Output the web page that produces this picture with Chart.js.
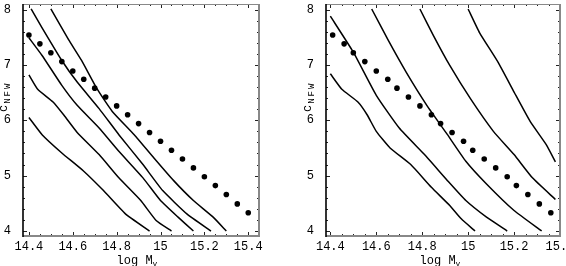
<!DOCTYPE html>
<html>
<head>
<meta charset="utf-8">
<script src="https://cdn.jsdelivr.net/npm/chart.js@4"></script>
<style>
  html, body { margin: 0; padding: 0; background: #fff; }
  .panel { position: absolute; top: 0; width: 283px; height: 266px; }
</style>
</head>
<body>
<div class="panel" style="left:0"><canvas id="leftChart" width="283" height="266"></canvas></div>
<div class="panel" style="left:283px"><canvas id="rightChart" width="283" height="266"></canvas></div>
<script>
// tick labels
const xTicks = [14.4, 14.6, 14.8, 15.0, 15.2, 15.4];
const yTicks = [4, 5, 6, 7, 8];

// dotted relation (same c values in both panels)
const dotsY = [7.54, 7.38, 7.22, 7.06, 6.89, 6.74, 6.58, 6.42, 6.26, 6.10, 5.94,
               5.78, 5.62, 5.46, 5.30, 5.14, 4.98, 4.82, 4.66, 4.49, 4.33];
const leftDotsX = [14.40, 14.45, 14.50, 14.55, 14.60, 14.65, 14.70, 14.75, 14.80, 14.85, 14.90,
                   14.95, 15.00, 15.05, 15.10, 15.15, 15.20, 15.25, 15.30, 15.35, 15.40];
const rightDotsX = [14.41, 14.46, 14.50, 14.55, 14.60, 14.65, 14.69, 14.74, 14.79, 14.84, 14.88,
                    14.93, 14.98, 15.02, 15.07, 15.12, 15.17, 15.21, 15.26, 15.31, 15.36];

// left panel curves [log M, c]
const leftCurve1 = [[14.40,6.05],[14.46,5.74],[14.55,5.41],[14.65,5.08],[14.74,4.73],[14.84,4.31],[14.95,4.00]];
const leftCurve2 = [[14.40,6.82],[14.44,6.56],[14.51,6.33],[14.56,6.09],[14.62,5.78],[14.72,5.38],[14.81,4.96],[14.91,4.55],[14.98,4.19],[15.05,4.00]];
const leftCurve3 = [[14.40,7.49],[14.46,7.17],[14.55,6.63],[14.62,6.27],[14.72,5.86],[14.81,5.44],[14.92,4.96],[15.00,4.55],[15.08,4.25],[15.15,4.00]];
const leftCurve4 = [[14.41,8.01],[14.46,7.67],[14.55,7.08],[14.62,6.69],[14.72,6.21],[14.81,5.74],[14.92,5.20],[15.01,4.73],[15.12,4.31],[15.23,4.00]];
const leftCurve5 = [[14.50,8.01],[14.58,7.46],[14.64,7.08],[14.71,6.57],[14.78,6.16],[14.88,5.74],[14.97,5.32],[15.06,4.91],[15.15,4.55],[15.24,4.25],[15.30,4.00]];

// right panel curves [log M, c]
const rightCurve1 = [[14.40,6.84],[14.45,6.56],[14.52,6.33],[14.56,6.10],[14.60,5.80],[14.66,5.50],[14.75,5.20],[14.84,4.79],[14.92,4.46],[14.97,4.22],[15.03,4.00]];
const rightCurve2 = [[14.40,7.88],[14.50,7.23],[14.60,6.45],[14.70,5.86],[14.81,5.38],[14.91,4.91],[14.99,4.55],[15.08,4.25],[15.17,4.00]];
const rightCurve3 = [[14.58,8.01],[14.65,7.46],[14.73,6.87],[14.82,6.27],[14.91,5.74],[14.99,5.26],[15.08,4.85],[15.20,4.37],[15.32,4.00]];
const rightCurve4 = [[14.79,8.01],[14.85,7.52],[14.92,6.99],[15.01,6.39],[15.11,5.80],[15.20,5.38],[15.28,4.96],[15.38,4.57]];
const rightCurve5 = [[15.00,8.01],[15.05,7.58],[15.13,7.05],[15.20,6.51],[15.27,5.98],[15.34,5.56],[15.38,5.25]];

const FONT = '"Liberation Mono", "Courier New", monospace';

function toPts(arr) { return arr.map(p => ({ x: p[0], y: p[1] })); }

function lineSet(arr) {
  return { data: toPts(arr), showLine: true, borderColor: '#000', borderWidth: 1.5,
           pointRadius: 0, tension: 0.15, fill: false };
}

function dotSet(xs, ys) {
  return { data: xs.map((x, i) => ({ x: x, y: ys[i] })), showLine: false,
           pointRadius: 2.8, pointBackgroundColor: '#000', pointBorderWidth: 0 };
}

// frame, inward ticks and axis titles with subscripts
const framePlugin = {
  id: 'frame',
  afterDraw(chart, args, opts) {
    const ctx = chart.ctx, a = chart.chartArea;
    const xs = chart.scales.x, ys = chart.scales.y;
    ctx.save();
    ctx.strokeStyle = '#222';
    ctx.lineWidth = 1;
    for (let i = 0; i <= 20; i++) {
      const px = Math.round(xs.getPixelForValue(14.4 + i * 0.05)) + 0.5;
      if (px > a.right - 1) continue;
      const len = i % 4 === 0 ? 4 : 2;
      ctx.beginPath();
      ctx.moveTo(px, a.bottom); ctx.lineTo(px, a.bottom - len);
      ctx.moveTo(px, a.top); ctx.lineTo(px, a.top + len);
      ctx.stroke();
    }
    for (let i = 0; i <= 20; i++) {
      const py = Math.round(ys.getPixelForValue(4 + i * 0.2)) + 0.5;
      const len = i % 5 === 0 ? 4 : 2;
      ctx.beginPath();
      ctx.moveTo(a.left, py); ctx.lineTo(a.left + len, py);
      ctx.moveTo(a.right, py); ctx.lineTo(a.right - len, py);
      ctx.stroke();
    }
    // frame
    ctx.strokeStyle = '#888';
    ctx.lineWidth = 1;
    ctx.beginPath(); ctx.moveTo(a.left, a.top + 0.5); ctx.lineTo(a.right, a.top + 0.5); ctx.stroke();
    ctx.lineWidth = 2;
    ctx.beginPath(); ctx.moveTo(a.right, a.top); ctx.lineTo(a.right, a.bottom); ctx.stroke();
    ctx.beginPath(); ctx.moveTo(a.left, a.bottom); ctx.lineTo(a.right + 1, a.bottom); ctx.stroke();
    ctx.strokeStyle = '#000';
    ctx.lineWidth = 1.6;
    ctx.beginPath(); ctx.moveTo(a.left, a.top); ctx.lineTo(a.left, a.bottom + 1); ctx.stroke();

    // x title: log M_v
    ctx.fillStyle = '#000';
    ctx.textBaseline = 'alphabetic';
    ctx.textAlign = 'left';
    ctx.font = '12px ' + FONT;
    const main = 'log M';
    const w1 = ctx.measureText(main).width;
    ctx.font = '8px ' + FONT;
    const w2 = ctx.measureText('v').width;
    let sx = opts.xTitleCenter - (w1 + w2) / 2;
    ctx.font = '12px ' + FONT;
    ctx.fillText(main, sx, 264);
    ctx.font = '8px ' + FONT;
    ctx.fillText('v', sx + w1, 266);

    // y title: c_NFW (rotated)
    ctx.translate(opts.yTitleBase, 112);
    ctx.rotate(-Math.PI / 2);
    ctx.font = '12px ' + FONT;
    ctx.fillText('c', 0, 0);
    const wc = ctx.measureText('c').width;
    ctx.font = '9px ' + FONT;
    ctx.letterSpacing = '2px';
    ctx.fillText('NFW', wc + 1, 2.5);
    ctx.restore();
  }
};

function makeChart(id, datasets, xMin, xMax, yAxisWidth, padRight, xTitleCenter, yTitleBase) {
  return new Chart(document.getElementById(id), {
    type: 'scatter',
    data: { datasets: datasets },
    plugins: [framePlugin],
    options: {
      responsive: false,
      animation: false,
      devicePixelRatio: 1,
      layout: { padding: { top: 1, right: padRight, left: 0, bottom: 0 } },
      plugins: {
        legend: { display: false },
        tooltip: { enabled: false },
        frame: { xTitleCenter: xTitleCenter, yTitleBase: yTitleBase }
      },
      scales: {
        x: {
          type: 'linear', min: xMin, max: xMax,
          grid: { display: false }, border: { display: false },
          afterBuildTicks: s => { s.ticks = xTicks.map(v => ({ value: v })); },
          afterFit: s => { s.height = 30; s.paddingLeft = 0; s.paddingRight = 0; },
          ticks: { color: '#000', font: { family: FONT, size: 12 }, padding: -4,
                   autoSkip: false, maxRotation: 0,
                   callback: v => String(Math.round(v * 10) / 10) }
        },
        y: {
          type: 'linear', min: 3.91, max: 8.1,
          grid: { display: false }, border: { display: false },
          afterBuildTicks: s => { s.ticks = yTicks.map(v => ({ value: v })); },
          afterFit: s => { s.width = yAxisWidth; s.paddingTop = 0; s.paddingBottom = 0; },
          ticks: { color: '#000', font: { family: FONT, size: 12 }, padding: 4 }
        }
      }
    }
  });
}

makeChart('leftChart', [
  lineSet(leftCurve1), lineSet(leftCurve2), lineSet(leftCurve3),
  lineSet(leftCurve4), lineSet(leftCurve5), dotSet(leftDotsX, dotsY)
], 14.373, 15.449, 23, 24, 137, 7);

makeChart('rightChart', [
  lineSet(rightCurve1), lineSet(rightCurve2), lineSet(rightCurve3),
  lineSet(rightCurve4), lineSet(rightCurve5), dotSet(rightDotsX, dotsY)
], 14.381, 15.4, 43, 6, 157, 28);
</script>
</body>
</html>
